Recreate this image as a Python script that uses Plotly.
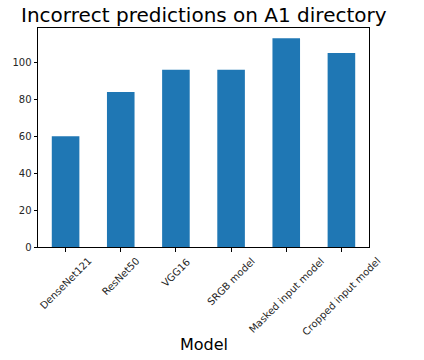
import plotly.graph_objects as go

models = ["DenseNet121", "ResNet50", "VGG16", "SRGB model", "Masked input model", "Cropped input model"]
incorrect = [60, 84, 96, 96, 113, 105]
y_ticks = [0, 20, 40, 60, 80, 100]

FONT = "DejaVu Sans"

fig = go.Figure(go.Bar(x=models, y=incorrect, marker_color="#1f77b4", width=0.5,
                       marker_line_width=0))

annotations = []
for m in models:
    annotations.append(dict(x=m, y=0, xref="x", yref="paper", text=m, showarrow=False,
                            textangle=-45, xanchor="center", yanchor="top", yshift=-6,
                            font=dict(family=FONT, size=10, color="#262626")))
annotations.append(dict(x=0.5, y=-0.445, xref="paper", yref="paper", text="Model",
                        showarrow=False, xanchor="center", yanchor="middle",
                        font=dict(family=FONT, size=16, color="black")))
annotations.append(dict(x=0.5, y=1.0, xref="paper", yref="paper", text="Incorrect predictions on A1 directory",
                        showarrow=False, xanchor="center", yanchor="bottom", yshift=-1,
                        font=dict(family=FONT, size=20, color="black")))

fig.update_layout(
    width=424, height=360,
    margin=dict(l=35, r=55, t=28, b=113),
    paper_bgcolor="white", plot_bgcolor="white",
    showlegend=False,
    annotations=annotations,
    xaxis=dict(range=[-0.5, 5.5], showticklabels=False, ticks="outside", ticklen=3.5,
               tickcolor="black", showline=True, linecolor="black", linewidth=1,
               mirror=True, showgrid=False, zeroline=False),
    yaxis=dict(range=[0, 118.6], tickvals=y_ticks, ticks="outside", ticklen=3.5,
               tickcolor="black", showline=True, linecolor="black", linewidth=1,
               mirror=True, showgrid=False, zeroline=False,
               tickfont=dict(family=FONT, size=10, color="#262626")),
)

fig.write_html("out.html")
